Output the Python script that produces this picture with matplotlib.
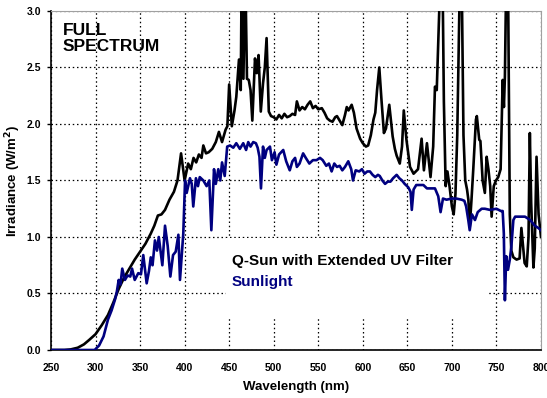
import numpy as np
import matplotlib.pyplot as plt
from matplotlib.patches import Rectangle

plt.rcParams['font.family'] = ['Liberation Sans', 'DejaVu Sans']

# Q-Sun with extended UV filter
qsun_nm = [250, 265, 272, 280, 287, 293, 300, 307, 314, 320, 326, 332, 338, 344, 350,
           356, 362, 366, 370, 374, 378, 383, 388, 392, 396, 400, 404, 407, 410, 413,
           416, 419, 421, 424, 427, 431, 435, 438.5, 442, 446, 448, 450, 453, 456, 458,
           461, 463, 464, 466, 468, 470, 472, 474, 476, 479, 481, 483, 485.5, 488, 490,
           492, 494.5, 497, 500, 503, 506, 509, 512, 515, 518, 521, 524, 526, 529, 532,
           535, 538, 541, 544, 547, 550, 554, 557, 560, 563, 566, 569, 571, 574, 577,
           580, 582, 584, 587.5, 590, 593, 597, 600, 603.5, 606, 609, 612, 614, 616,
           618.5, 621, 623.7, 626, 629.7, 633.5, 636, 638, 641.5, 644, 646, 649, 653,
           657, 662, 666, 668.6, 672, 676, 679, 681, 683, 685, 687, 689.5, 691, 693,
           695, 697.5, 700, 702, 704, 706, 709, 711, 713, 715, 717, 718.5, 720, 722,
           724, 727, 728, 730.7, 732, 734.5, 737, 739, 741, 743, 744.6, 747, 749.5, 752,
           754.7, 757, 758.4, 759.5, 761, 763, 765, 766.7, 769, 772.6, 776, 778, 781.6,
           784, 786, 787.5, 789, 791.5, 793, 795, 797.3, 800]
qsun_irr = [0.0, 0.0, 0.005, 0.02, 0.05, 0.09, 0.14, 0.22, 0.31, 0.42, 0.54, 0.64, 0.72, 0.80, 0.87,
            0.94, 1.03, 1.10, 1.19, 1.20, 1.24, 1.33, 1.40, 1.50, 1.74, 1.50, 1.65, 1.60, 1.70, 1.66,
            1.73, 1.70, 1.81, 1.74, 1.75, 1.78, 1.84, 1.93, 1.84, 1.95, 1.98, 2.35, 1.98, 2.12, 2.24,
            2.57, 2.30, 3.30, 2.40, 3.40, 2.40, 2.39, 2.30, 2.03, 2.58, 2.45, 2.61, 2.11, 2.36, 2.50,
            2.76, 2.11, 2.07, 2.06, 2.04, 2.08, 2.05, 2.09, 2.06, 2.07, 2.09, 2.08, 2.20, 2.12, 2.15,
            2.13, 2.17, 2.20, 2.14, 2.16, 2.13, 2.14, 2.10, 2.05, 2.03, 2.02, 2.06, 2.07, 2.03, 1.99,
            2.08, 2.15, 2.12, 2.17, 2.10, 1.96, 1.87, 1.83, 1.80, 1.81, 1.90, 2.04, 2.10, 2.30,
            2.50, 2.21, 1.92, 1.96, 2.17, 1.89, 1.78, 1.72, 1.65, 1.80, 2.12, 1.86, 1.62,
            1.56, 1.60, 1.87, 1.59, 1.83, 1.53, 1.80, 2.33, 2.30, 2.80, 3.30, 3.30, 2.20, 1.45,
            1.58, 1.44, 1.27, 1.20, 1.38, 1.90, 3.30, 3.30, 1.90, 1.50, 1.42, 1.33, 1.09, 1.33,
            1.60, 2.04, 2.07, 1.86, 1.85, 1.50, 1.39, 1.71, 1.60, 1.45, 1.18, 1.45, 1.50, 1.53,
            1.60, 2.39, 2.15, 2.42, 3.30, 3.30, 1.20, 0.88, 0.82, 0.80, 0.81, 1.08, 0.77,
            0.74, 1.00, 1.92, 1.30, 0.73, 0.90, 1.71, 1.20, 1.00]

# natural sunlight
sun_nm = [250, 299, 304, 309, 314, 318, 322, 324, 326, 328, 330, 333, 336, 339, 341,
          344, 348, 351, 353.6, 357.4, 360, 362, 364, 366.7, 369, 371, 375, 378, 381, 384,
          387, 390, 393, 394.8, 398.5, 400.5, 402.3, 406, 408, 409.7, 412.7, 415, 417, 421,
          424.7, 427.7, 430, 433, 435, 437.8, 440, 442, 445, 447.8, 451, 454.6, 458, 462,
          465.8, 469, 471.4, 474, 477, 480, 482, 484, 485.7, 488, 490, 492, 495.8, 498,
          501, 503, 506, 510.7, 514, 518, 521, 524, 526, 529, 533, 536, 540, 544, 548,
          552, 555, 559, 562, 565, 568, 571, 574, 577, 580, 583.7, 587, 589, 592, 596,
          599, 602, 605, 608, 611, 614, 617, 619, 622, 625, 628, 631, 634, 638, 641,
          644, 647, 651, 653.6, 655, 657, 660, 664, 668, 672, 676, 681, 684.7, 687.3,
          690, 694, 699.7, 705, 711, 714, 716, 718.4, 720, 722.5, 725.9, 729, 733.4,
          737, 742.7, 750, 755, 757, 758.3, 759.5, 761, 763, 765, 766.7, 769, 771, 776,
          782, 788, 793, 797, 800]
sun_irr = [0.0, 0.0, 0.04, 0.12, 0.27, 0.35, 0.45, 0.52, 0.62, 0.58, 0.72, 0.62, 0.66, 0.65, 0.72,
           0.62, 0.68, 0.67, 0.84, 0.59, 0.70, 0.82, 0.75, 0.97, 0.88, 1.00, 0.75, 1.10, 0.92, 0.65,
           0.84, 0.87, 1.02, 0.62, 1.03, 1.50, 1.39, 1.52, 1.47, 1.27, 1.52, 1.45, 1.53, 1.50,
           1.45, 1.50, 1.06, 1.60, 1.47, 1.60, 1.50, 1.66, 1.54, 1.80, 1.81, 1.79, 1.83, 1.78,
           1.83, 1.77, 1.84, 1.80, 1.84, 1.83, 1.79, 1.71, 1.43, 1.80, 1.70, 1.77, 1.80, 1.68,
           1.75, 1.64, 1.73, 1.77, 1.67, 1.59, 1.67, 1.70, 1.62, 1.65, 1.74, 1.70, 1.65, 1.68, 1.68,
           1.70, 1.68, 1.63, 1.65, 1.58, 1.65, 1.62, 1.63, 1.59, 1.62, 1.67, 1.60, 1.50, 1.59, 1.58,
           1.60, 1.56, 1.58, 1.58, 1.55, 1.53, 1.55, 1.54, 1.50, 1.47, 1.49, 1.49, 1.52, 1.55, 1.52,
           1.50, 1.47, 1.44, 1.40, 1.24, 1.42, 1.46, 1.46, 1.46, 1.43, 1.43, 1.43, 1.36, 1.22,
           1.34, 1.33, 1.34, 1.34, 1.33, 1.32, 1.27, 1.15, 1.06, 1.20, 1.15, 1.22, 1.25,
           1.25, 1.24, 1.25, 1.23, 1.23, 1.03, 0.44, 0.83, 0.71, 0.80, 0.91, 1.15, 1.18, 1.18,
           1.18, 1.15, 1.10, 1.08, 1.06]

x_ticks = np.arange(250, 801, 50)
y_ticks = np.arange(0, 3.01, 0.5)

fig = plt.figure(figsize=(5.47, 3.98), dpi=100)
ax = fig.add_axes([0.0932, 0.1206, 0.8958, 0.8518])

ax.plot(qsun_nm, qsun_irr, color='black', lw=1.9, solid_joinstyle='round', zorder=3)
ax.plot(sun_nm, sun_irr, color='#000080', lw=1.9, solid_joinstyle='round', zorder=4)

ax.set_xlim(250, 800)
ax.set_ylim(0, 3.0)
ax.set_xticks(x_ticks)
ax.set_yticks(y_ticks)
ax.set_yticklabels(['%.1f' % v for v in y_ticks])
ax.tick_params(labelsize=7.5, width=1)
ax.tick_params(axis='y', length=3, pad=4)
ax.tick_params(axis='x', length=0, pad=9)
for lab in ax.get_xticklabels() + ax.get_yticklabels():
    lab.set_fontweight('bold')

ax.grid(True, color='black', linestyle=(0, (1.2, 2.2)), linewidth=0.9, zorder=1)
ax.set_axisbelow(True)
for side in ['top', 'right']:
    ax.spines[side].set_color('#a0a0a0')
    ax.spines[side].set_linewidth(0.8)
for side in ['left', 'bottom']:
    ax.spines[side].set_linewidth(1.2)

ax.set_xlabel('Wavelength (nm)', fontsize=9.5, fontweight='bold', labelpad=6)
ax.set_ylabel('Irradiance (W/m$^\\mathbf{2}$)', fontsize=9.5, fontweight='bold', labelpad=3)

ax.text(0.024, 0.965, 'FULL\nSPECTRUM', transform=ax.transAxes, fontsize=12.5,
        fontweight='bold', va='top', ha='left', linespacing=1.1)

# white key box with the series names
ax.add_patch(Rectangle((0.357, 0.095), 0.535, 0.235, transform=ax.transAxes,
                       facecolor='white', edgecolor='none', zorder=2))
ax.text(0.369, 0.263, 'Q-Sun with Extended UV Filter', transform=ax.transAxes,
        fontsize=11, fontweight='bold', color='black', va='center', zorder=5)
ax.text(0.369, 0.200, 'Sunlight', transform=ax.transAxes,
        fontsize=11, fontweight='bold', color='#000080', va='center', zorder=5)

fig.savefig('out.png', dpi=100)
